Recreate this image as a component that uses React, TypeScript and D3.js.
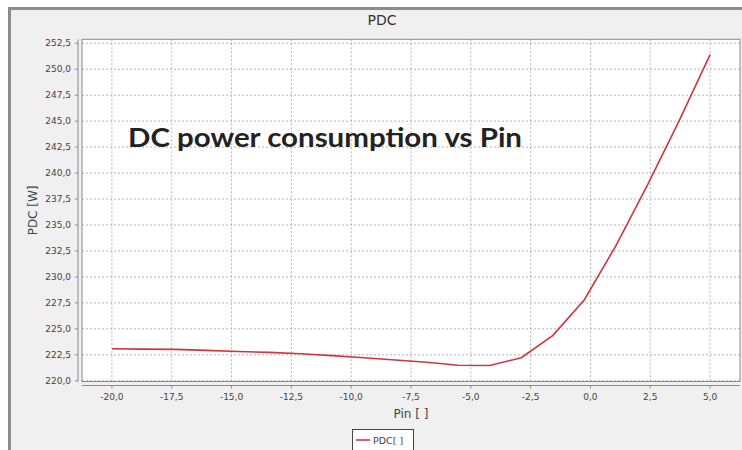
import React from "react";
import * as d3 from "d3";

// Pin [ ] values of the samples
const pinValues = [
  -20, -18.68, -17.37, -16.05, -14.74, -13.42, -12.11, -10.79, -9.47, -8.16,
  -6.84, -5.53, -4.21, -2.89, -1.58, -0.26, 1.05, 2.37, 3.68, 5,
];
// PDC [W]
const pdcValues = [
  223.08, 223.05, 223.02, 222.93, 222.82, 222.73, 222.6, 222.42, 222.22, 222.0,
  221.78, 221.5, 221.47, 222.22, 224.35, 227.78, 232.95, 238.8, 244.9, 251.4,
];
const xTicks = [-20, -17.5, -15, -12.5, -10, -7.5, -5, -2.5, 0, 2.5, 5];
const yTicks = [220, 222.5, 225, 227.5, 230, 232.5, 235, 237.5, 240, 242.5, 245, 247.5, 250, 252.5];

const W = 742;
const H = 450;
const plot = { left: 82, right: 740, top: 39.3, bottom: 381.5 };
const font = "Tahoma, 'DejaVu Sans', sans-serif";
const fmt = (v: number) => v.toFixed(1).replace(".", ",");

const App: React.FC = () => {
  const x = d3.scaleLinear().domain([-21.25, 6.25]).range([plot.left, plot.right]);
  const y = d3.scaleLinear().domain([219.93, 252.88]).range([plot.bottom, plot.top]);

  const line = d3
    .line<number>()
    .x((_, i) => x(pinValues[i]))
    .y((d) => y(d));

  const cx = 382;

  return (
    <svg
      width={W}
      height={H}
      style={{ position: "absolute", left: 0, top: 0, background: "#fff" }}
      fontFamily={font}
    >
      {/* window frame */}
      <rect x={0} y={0} width={W} height={H} fill="#fff" />
      <rect x={9.5} y={8.5} width={W + 20} height={H + 20} fill="#f0f0f0" stroke="#8c8c8c" strokeWidth={3} />

      {/* title */}
      <text x={cx} y={25} textAnchor="middle" fontSize={14} fill="#333">
        PDC
      </text>

      {/* plot area */}
      <rect
        x={plot.left}
        y={plot.top}
        width={plot.right - plot.left}
        height={plot.bottom - plot.top}
        fill="#fff"
      />
      <g stroke="#b4b4b4" strokeWidth={1} strokeDasharray="2,2">
        {xTicks.map((t) => (
          <line key={"gx" + t} x1={x(t)} x2={x(t)} y1={plot.top} y2={plot.bottom} />
        ))}
        {yTicks.map((t) => (
          <line key={"gy" + t} x1={plot.left} x2={plot.right} y1={y(t)} y2={y(t)} />
        ))}
      </g>
      <rect
        x={plot.left}
        y={plot.top}
        width={plot.right - plot.left}
        height={plot.bottom - plot.top}
        fill="none"
        stroke="#8a8a8a"
        strokeWidth={1}
      />

      {/* y axis */}
      <line x1={78} x2={78} y1={plot.top} y2={plot.bottom} stroke="#8a8a8a" />
      {yTicks.map((t) => (
        <g key={"ty" + t}>
          <line x1={75} x2={78} y1={y(t)} y2={y(t)} stroke="#8a8a8a" />
          <text x={71} y={y(t)} dy="0.35em" textAnchor="end" fontSize={9} fill="#444">
            {fmt(t)}
          </text>
        </g>
      ))}
      <text
        transform={`translate(37,${(plot.top + plot.bottom) / 2}) rotate(-90)`}
        textAnchor="middle"
        fontSize={12}
        fill="#444"
      >
        PDC [W]
      </text>

      {/* x axis */}
      <line x1={plot.left} x2={plot.right} y1={385.5} y2={385.5} stroke="#8a8a8a" />
      {xTicks.map((t) => (
        <g key={"tx" + t}>
          <line x1={x(t)} x2={x(t)} y1={385.5} y2={388.5} stroke="#8a8a8a" />
          <text x={x(t)} y={400} textAnchor="middle" fontSize={9} fill="#444">
            {fmt(t)}
          </text>
        </g>
      ))}
      <text x={(plot.left + plot.right) / 2} y={418} textAnchor="middle" fontSize={12} fill="#444">
        Pin [ ]
      </text>

      {/* series */}
      <path d={line(pdcValues) ?? ""} fill="none" stroke="#d0353f" strokeWidth={1.6} />

      {/* annotation */}
      <text
        x={128}
        y={147}
        fontFamily="Lato, 'Open Sans', sans-serif"
        fontWeight="bold"
        fontSize={26}
        fill="#222"
        textLength={394}
        lengthAdjust="spacingAndGlyphs"
      >
        DC power consumption vs Pin
      </text>

      {/* legend */}
      <rect x={352.5} y={429.5} width={61} height={24} fill="#fff" stroke="#444" />
      <line x1={356} x2={370} y1={440} y2={440} stroke="#d0353f" strokeWidth={1.6} />
      <text x={373} y={444} fontSize={9.5} fill="#444">
        PDC[ ]
      </text>
    </svg>
  );
};

export default App;
